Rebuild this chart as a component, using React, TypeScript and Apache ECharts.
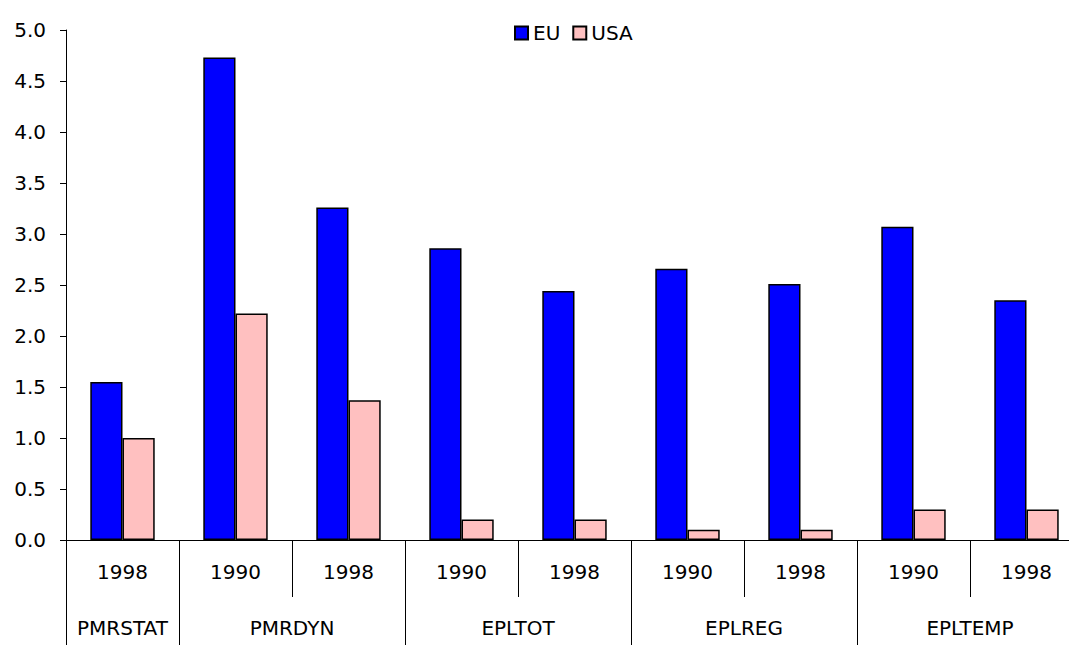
import React, { useEffect, useRef } from "react";
import * as echarts from "echarts";

const years = ["1998", "1990", "1998", "1990", "1998", "1990", "1998", "1990", "1998"];
const groupNames = ["PMRSTAT", "PMRDYN", "EPLTOT", "EPLREG", "EPLTEMP"];
// group label positions on a 0..9 scale (category span centers)
const groupCenters = [0.5, 2, 4, 6, 8];
// category indices where a group starts (boundary ticks)
const groupStarts = [0, 1, 3, 5, 7];
const euValues = [1.55, 4.73, 3.26, 2.86, 2.44, 2.66, 2.51, 3.07, 2.35];
const usaValues = [1.0, 2.22, 1.37, 0.2, 0.2, 0.1, 0.1, 0.3, 0.3];
const yTicks = [0, 0.5, 1, 1.5, 2, 2.5, 3, 3.5, 4, 4.5, 5];

const FONT = "DejaVu Sans";

export default function App() {
  const ref = useRef<HTMLDivElement>(null);
  useEffect(() => {
    if (!ref.current) return;
    const chart = echarts.init(ref.current, null, { renderer: "svg" });
    chart.setOption({
      animation: false,
      backgroundColor: "#fff",
      textStyle: { fontFamily: FONT, color: "#000" },
      legend: {
        left: 509,
        top: 18,
        itemWidth: 13,
        itemHeight: 13,
        itemGap: 12,
        textStyle: { fontFamily: FONT, fontSize: 20, color: "#000" },
        data: [
          { name: "EU", icon: "rect" },
          { name: "USA", icon: "rect" },
        ],
      },
      grid: {
        left: 66,
        top: 30,
        width: 1017,
        height: 510,
        containLabel: false,
        outerBoundsMode: "none",
      },
      xAxis: [
        {
          type: "category",
          position: "bottom",
          data: years,
          axisLine: { show: true, lineStyle: { color: "#000", width: 1 } },
          axisTick: { show: true, length: 57, interval: 0, lineStyle: { color: "#000" } },
          axisLabel: { interval: 0, margin: 22, fontSize: 20, color: "#000", fontFamily: FONT },
          splitLine: { show: false },
        },
        {
          type: "category",
          position: "bottom",
          data: years,
          axisLine: { show: false },
          axisTick: {
            show: true,
            length: 110,
            interval: (i: number) => groupStarts.indexOf(i) >= 0,
            lineStyle: { color: "#000" },
          },
          axisLabel: { show: false },
          splitLine: { show: false },
        },
        {
          type: "value",
          position: "bottom",
          min: 0,
          max: 9,
          interval: 0.5,
          axisLine: { show: false },
          axisTick: { show: false },
          splitLine: { show: false },
          axisLabel: {
            margin: 78,
            fontSize: 20,
            color: "#000",
            fontFamily: FONT,
            showMinLabel: true,
            showMaxLabel: true,
            formatter: (v: number) => {
              const k = groupCenters.indexOf(v);
              return k >= 0 ? groupNames[k] : "";
            },
          },
        },
      ],
      yAxis: {
        type: "value",
        min: yTicks[0],
        max: yTicks[yTicks.length - 1],
        interval: 0.5,
        axisLine: { show: true, lineStyle: { color: "#000" } },
        axisTick: { show: true, length: 6, lineStyle: { color: "#000" } },
        splitLine: { show: false },
        axisLabel: {
          margin: 20,
          fontSize: 20,
          color: "#000",
          fontFamily: FONT,
          formatter: (v: number) => v.toFixed(1),
        },
      },
      series: [
        {
          name: "EU",
          type: "bar",
          xAxisIndex: 0,
          data: euValues,
          barGap: "0%",
          barCategoryGap: "43%",
          itemStyle: { color: "#0000FF", borderColor: "#000", borderWidth: 1.5 },
        },
        {
          name: "USA",
          type: "bar",
          xAxisIndex: 0,
          data: usaValues,
          barGap: "0%",
          barCategoryGap: "43%",
          itemStyle: { color: "#FFC0C0", borderColor: "#000", borderWidth: 1.5 },
        },
      ],
    });
    return () => chart.dispose();
  }, []);
  return (
    <div
      ref={ref}
      style={{ position: "fixed", left: 0, top: 0, width: 1069, height: 645, background: "#fff" }}
    />
  );
}
